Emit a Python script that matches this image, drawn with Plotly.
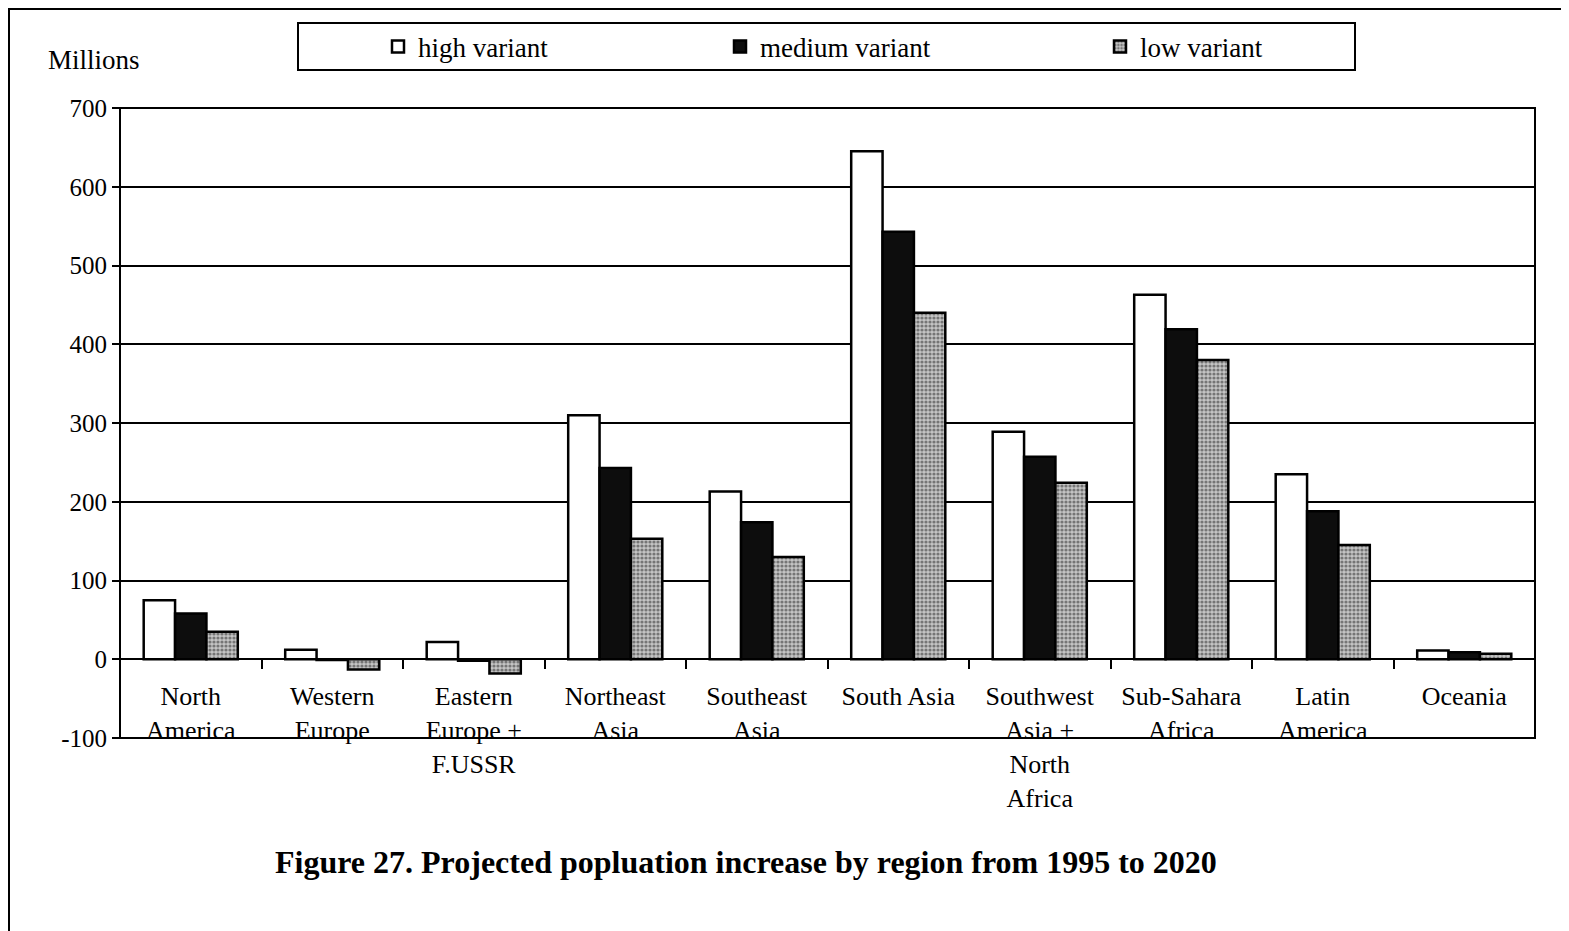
import plotly.graph_objects as go

regions = ["North<br>America", "Western<br>Europe", "Eastern<br>Europe +<br>F.USSR",
           "Northeast<br>Asia", "Southeast<br>Asia", "South Asia",
           "Southwest<br>Asia +<br>North<br>Africa", "Sub-Sahara<br>Africa",
           "Latin<br>America", "Oceania"]
high_variant = [75, 12, 22, 310, 213, 645, 289, 463, 235, 11]
medium_variant = [58, -1, -2, 243, 174, 543, 257, 419, 188, 9]
low_variant = [35, -13, -18, 153, 130, 440, 224, 380, 145, 7]
y_ticks = [-100, 0, 100, 200, 300, 400, 500, 600, 700]
y_tick_labels = ["-100", "0", "100", "200", "300", "400", "500", "600", "700"]

FONT = "Liberation Serif"
OFF = 8  # page body margin
W, H = 1569, 931
# target plot area on screen: x 120..1535, y 108..738
L, T = 120 - OFF, 108 - OFF
R = (W + OFF) - 1535
B = (H + OFF) - 738
PW, PH = W - L - R, H - T - B

def px_x(p):
    return (p - OFF - L) / PW

def px_y(p):
    return (H - B - (p - OFF)) / PH

fig = go.Figure()
fig.add_bar(x=regions, y=high_variant, name="high variant", legend="legend",
            marker=dict(color="white", line=dict(color="black", width=2.5)))
fig.add_bar(x=regions, y=medium_variant, name="medium variant", legend="legend2",
            marker=dict(color="#0d0d0d", line=dict(color="black", width=2.5)))
fig.add_bar(x=regions, y=low_variant, name="low variant", legend="legend3",
            marker=dict(color="#a8a8a8", line=dict(color="black", width=2.5),
                        pattern=dict(shape=".", bgcolor="#c4c4c4", fgcolor="#262626",
                                     size=4, solidity=0.5)))

legend_common = dict(orientation="h", yanchor="middle", xanchor="left", visible=True,
                     font=dict(family=FONT, size=27, color="black"),
                     bgcolor="rgba(0,0,0,0)", borderwidth=0, itemwidth=30)
fig.update_layout(
    width=W, height=H,
    margin=dict(l=L, r=R, t=T, b=B),
    paper_bgcolor="white", plot_bgcolor="white",
    showlegend=True,
    barmode="group", bargap=0.335, bargroupgap=0,
    font=dict(family=FONT, size=25, color="black"),
    legend=dict(x=px_x(378), y=px_y(47), **legend_common),
    legend2=dict(x=px_x(720), y=px_y(47), **legend_common),
    legend3=dict(x=px_x(1100), y=px_y(47), **legend_common),
    xaxis=dict(anchor="free", position=100 / 800, showline=True, linecolor="black",
               linewidth=2, ticks="outside", tickson="boundaries", ticklen=9,
               tickwidth=2, tickcolor="black", showgrid=False, ticklabelstandoff=14,
               tickfont=dict(family=FONT, size=26, color="black")),
    yaxis=dict(range=[-100, 700], tickvals=y_ticks, ticktext=y_tick_labels,
               showgrid=True, gridcolor="black", gridwidth=1.5, zeroline=False,
               showline=False, ticks="outside", ticklen=7, tickwidth=1.5,
               tickcolor="black", tickfont=dict(family=FONT, size=25, color="black")),
    shapes=[
        dict(type="rect", xref="paper", yref="paper", x0=0, x1=1, y0=0, y1=1,
             line=dict(color="black", width=2)),
        dict(type="rect", xref="paper", yref="paper", x0=px_x(298), x1=px_x(1355),
             y0=px_y(70), y1=px_y(23), line=dict(color="black", width=2)),
        dict(type="line", xref="paper", yref="paper", x0=px_x(8), x1=px_x(1569),
             y0=px_y(9), y1=px_y(9), line=dict(color="black", width=2)),
        dict(type="line", xref="paper", yref="paper", x0=px_x(9), x1=px_x(9),
             y0=px_y(9), y1=px_y(931), line=dict(color="black", width=2)),
    ],
    annotations=[
        dict(text="Millions", xref="paper", yref="paper", x=px_x(46), y=px_y(60),
             xanchor="left", yanchor="middle", showarrow=False,
             font=dict(family=FONT, size=27, color="black")),
        dict(text="<b>Figure 27. Projected popluation increase by region from 1995 to 2020</b>",
             xref="paper", yref="paper", x=px_x(746), y=px_y(862),
             xanchor="center", yanchor="middle", showarrow=False,
             font=dict(family=FONT, size=32, color="black")),
    ],
)

fig.write_html("out.html")
